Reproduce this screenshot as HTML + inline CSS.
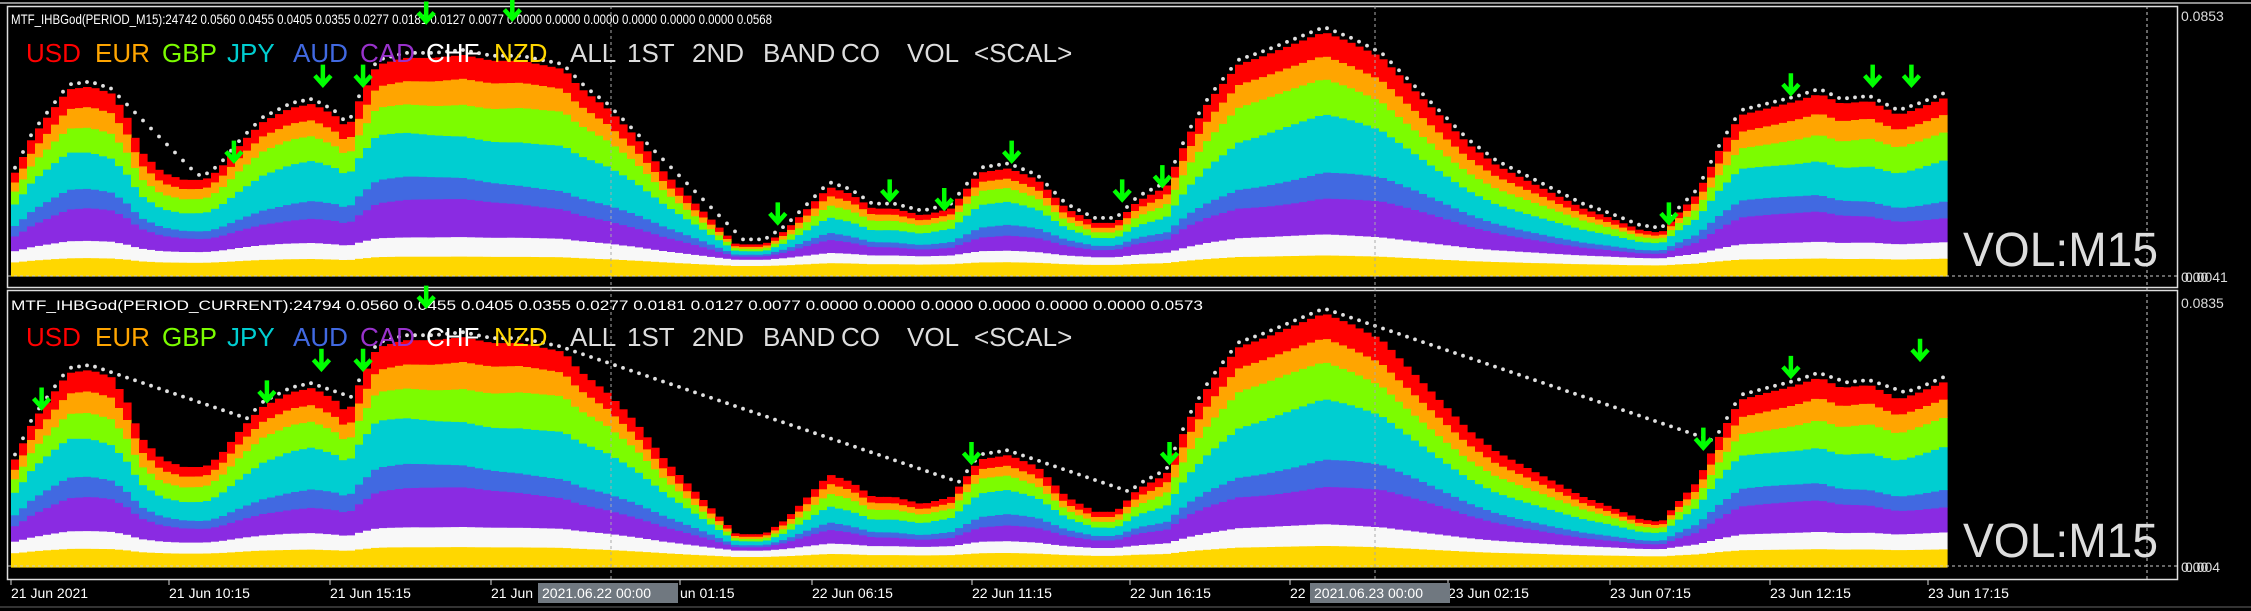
<!DOCTYPE html>
<html><head><meta charset="utf-8"><style>
html,body{margin:0;padding:0;background:#000;width:2251px;height:611px;overflow:hidden}
svg{display:block}
</style></head><body>
<svg id="s" width="2251" height="611" xmlns="http://www.w3.org/2000/svg" font-family="Liberation Sans, sans-serif">
<rect width="2251" height="611" fill="#000"/>
<g id="bars"></g>
<g id="dots"></g>
<line x1="0" y1="3" x2="2251" y2="3" stroke="#bbb" stroke-width="1.5"/>
<rect x="7.5" y="6.5" width="2170" height="281" fill="none" stroke="#ddd" stroke-width="1.5"/>
<rect x="7.5" y="290.5" width="2170" height="289" fill="none" stroke="#ddd" stroke-width="1.5"/>
<line x1="8" y1="276" x2="2178" y2="276" stroke="#ccc" stroke-dasharray="3,3"/>
<line x1="8" y1="566" x2="2178" y2="566" stroke="#ccc" stroke-dasharray="3,3"/>
<line x1="611" y1="6" x2="611" y2="580" stroke="#aaa" stroke-dasharray="3,3"/>
<line x1="1375" y1="6" x2="1375" y2="580" stroke="#aaa" stroke-dasharray="3,3"/>
<line x1="2147" y1="6" x2="2147" y2="580" stroke="#ccc" stroke-dasharray="3,3"/>
<line x1="0" y1="607" x2="2251" y2="607" stroke="#666"/>
<g fill="#fff" font-size="14">
<text x="11" y="24" textLength="761" lengthAdjust="spacingAndGlyphs">MTF_IHBGod(PERIOD_M15):24742 0.0560 0.0455 0.0405 0.0355 0.0277 0.0181 0.0127 0.0077 0.0000 0.0000 0.0000 0.0000 0.0000 0.0000 0.0568</text>
<text x="11" y="310" textLength="1192" lengthAdjust="spacingAndGlyphs">MTF_IHBGod(PERIOD_CURRENT):24794 0.0560 0.0455 0.0405 0.0355 0.0277 0.0181 0.0127 0.0077 0.0000 0.0000 0.0000 0.0000 0.0000 0.0000 0.0573</text>
</g>
<g font-size="14" fill="#ddd">
<text x="2181" y="21">0.0853</text>
<text x="2185" y="282">0.0041</text>
<text x="2181" y="282">0.00</text>
<text x="2181" y="308">0.0835</text>
<text x="2185" y="572">0.004</text>
<text x="2181" y="572">0.00</text>
</g>
<g id="legend"></g>
<g id="arrows"></g>
<g font-size="48" fill="#ddd">
<text x="1963" y="266" textLength="195" lengthAdjust="spacingAndGlyphs">VOL:M15</text>
<text x="1963" y="557" textLength="195" lengthAdjust="spacingAndGlyphs">VOL:M15</text>
</g>
<g id="axis" font-size="14" fill="#fff"></g>
</svg>
<script>
var NS="http://www.w3.org/2000/svg";
function el(t,a,p){var e=document.createElementNS(NS,t);for(var k in a)e.setAttribute(k,a[k]);(p||document.getElementById('s')).appendChild(e);return e;}
var K=[[8,120],[20,95],[35,75],[45,62],[60,60],[75,65],[85,80],[95,105],[110,120],[125,125],[140,125],[150,118],[165,100],[180,85],[200,75],[215,72],[230,80],[240,90],[245,75],[260,45],[280,40],[300,40],[320,38],[340,42],[360,42],[390,48],[400,60],[420,75],[440,95],[460,120],[480,140],[500,160],[510,170],[530,170],[545,160],[560,145],[575,130],[590,135],[605,145],[620,145],[640,150],[660,145],[680,120],[700,117],[720,125],[740,145],[760,155],[775,155],[790,140],[810,130],[825,95],[840,70],[860,45],[880,38],[900,30],[920,22],[940,30],[960,40],[980,60],[1000,80],[1020,100],[1040,115],[1060,125],[1080,135],[1100,145],[1120,152],[1140,160],[1155,162],[1165,150],[1180,135],[1195,105],[1210,80],[1230,75],[1250,70],[1265,65],[1280,72],[1300,70],[1320,80],[1335,75],[1352,68]];
function env(xt){if(xt<=K[0][0])return K[0][1];for(var i=1;i<K.length;i++){if(xt<=K[i][0]){var a=K[i-1],b=K[i];return a[1]+(b[1]-a[1])*(xt-a[0])/(b[0]-a[0]);}}return K[K.length-1][1];}
var cols=['#FFD700','#F8F8F8','#8A2BE2','#4169E1','#00CED1','#7CFC00','#FFA500','#FF0000'];
var fr=[0.19,0.12,0.26,0.18,0.13,0.12];
var bars=document.getElementById('bars'),dots=document.getElementById('dots');
function panel(base,scale,decay){
  var dot=0,i=0;
  for(var x=11;x<1942;x+=8,i++){
    var h=(192-env(x/1.435))*1.435*scale;
    var g=9+0.05*h,w=4+0.07*h;if(g+w>h){g=h*0.6;w=h*0.4;}
    var r=h-g-w;var bnd=[g,g+w];var c=g+w;
    for(var j=0;j<6;j++){var v=fr[j]*(1+0.12*Math.sin(i*0.15+j*1.3));c+=r*v;bnd.push(Math.min(c,h));}
    bnd[7]=h;
    var prev=0;
    for(var j=0;j<8;j++){var top=bnd[j];if(top>prev){el('rect',{x:x,y:(base-top).toFixed(1),width:8.6,height:(top-prev+0.6).toFixed(1),fill:cols[j]},bars);}prev=Math.max(prev,top);}
    dot=Math.max(h+5,dot-decay);
    el('circle',{cx:x+4,cy:(base-dot).toFixed(1),r:1.9,fill:'#e0e0e0'},dots);
  }
}
panel(276,1,8*1.0);
panel(567,1.04,8*0.34);
var L=[['USD',26,'#FF0000'],['EUR',95,'#FFA500'],['GBP',162,'#7CFC00'],['JPY',227,'#00CED1'],['AUD',293,'#4169E1'],['CAD',360,'#9932CC'],['CHF',426,'#FFFFFF'],['NZD',494,'#FFD700'],['ALL',570,'#ddd'],['1ST',627,'#ddd'],['2ND',692,'#ddd'],['BAND',763,'#ddd'],['CO',841,'#ddd'],['VOL',907,'#ddd'],['<SCAL>',974,'#ddd']];
var lg=document.getElementById('legend');
[62,346].forEach(function(y){L.forEach(function(l){var t=el('text',{x:l[1],y:y,fill:l[2],'font-size':26},lg);t.textContent=l[0];});});
var A1=[[163,105],[225,52],[253,52],[297,8],[357,6],[542,148],[620,132],[658,138],[705,105],[782,132],[810,122],[1163,148],[1248,58],[1305,52],[1332,52]];
var A2=[[29,277],[186,272],[224,250],[253,250],[297,206],[677,315],[815,315],[1187,305],[1248,255],[1338,243]];
var ag=document.getElementById('arrows');
function arrow(xt,yt){var cx=xt*1.435,top=yt*1.435-10;el('path',{d:'M'+cx+','+top+' L'+cx+','+(top+20)+' M'+(cx-8)+','+(top+11)+' L'+cx+','+(top+20)+' L'+(cx+8)+','+(top+11),stroke:'#00FF00','stroke-width':4.5,fill:'none'},ag);}
A1.forEach(function(a){arrow(a[0],a[1]);});
A2.forEach(function(a){arrow(a[0],a[1]);});
var ax=document.getElementById('axis');
var T=[[11,'21 Jun 2021'],[169,'21 Jun 10:15'],[330,'21 Jun 15:15'],[491,'21 Jun'],[680,'un 01:15'],[812,'22 Jun 06:15'],[972,'22 Jun 11:15'],[1130,'22 Jun 16:15'],[1290,'22'],[1448,'23 Jun 02:15'],[1610,'23 Jun 07:15'],[1770,'23 Jun 12:15'],[1928,'23 Jun 17:15']];
T.forEach(function(t){el('line',{x1:t[0],y1:580,x2:t[0],y2:585,stroke:'#ddd'},ax);var e=el('text',{x:t[0],y:598},ax);e.textContent=t[1];});
[[538,'2021.06.22 00:00'],[1310,'2021.06.23 00:00']].forEach(function(b){el('rect',{x:b[0],y:583,width:140,height:20,fill:'#707880'},ax);var e=el('text',{x:b[0]+4,y:598},ax);e.textContent=b[1];});
</script>
</body></html>
